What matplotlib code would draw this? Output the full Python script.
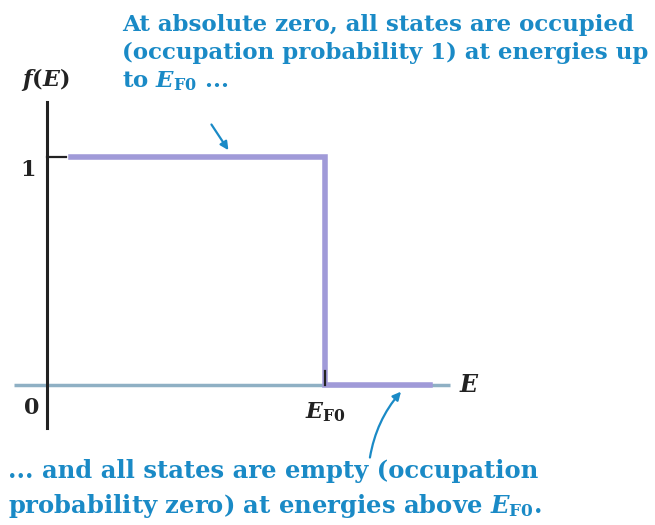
import matplotlib.pyplot as plt

# Fermi-Dirac distribution at T = 0 (energies in units of E_F0)
energy = [0.085, 1.0, 1.0, 1.378]
occupancy = [1, 1, 0, 0]
tick_values = [0, 1]
tick_labels = ['0', '1']

purple = '#a09ad8'
blue = '#1a8ac6'
serif = 'DejaVu Serif'
plt.rcParams['mathtext.fontset'] = 'dejavuserif'

fig = plt.figure(figsize=(6.55, 5.25), dpi=100)
ax = fig.add_axes([0, 0, 1, 1])
ax.set_xlim(-0.169, 2.187)
ax.set_ylim(-0.614, 1.689)
ax.axis('off')

# axes drawn by hand
ax.plot([-0.12, 1.45], [0, 0], color='#8fb0c4', lw=2.5, solid_capstyle='butt', zorder=1)
ax.plot([0, 0], [-0.19, 1.24], color='#222222', lw=2.2, zorder=3)
ax.plot([0, 0.07], [1, 1], color='#222222', lw=1.6, zorder=3)
ax.plot([1.0, 1.0], [0.0, 0.06], color='#222222', lw=1.6, zorder=3)

# occupation probability
ax.plot(energy, occupancy, color=purple, lw=4, solid_joinstyle='miter', zorder=2)

ax.text(-0.068, 1 - 0.057, tick_labels[1], fontsize=16, fontweight='bold', family=serif,
        ha='center', va='center', color='#222222')
ax.text(-0.054, 0 - 0.10, tick_labels[0], fontsize=16, fontweight='bold', family=serif,
        ha='center', va='center', color='#222222')

ax.text(-0.005, 1.34, r'$\mathbfit{f}\mathbf{(}\mathbfit{E}\mathbf{)}$', fontsize=16,
        ha='center', va='center', color='#222222')
ax.text(1.0, -0.12, r'$\mathbfit{E}_{\mathbf{F0}}$', fontsize=16, ha='center', va='center',
        color='#222222')
ax.text(1.52, 0.0, r'$\mathbfit{E}$', fontsize=17, ha='center', va='center', color='#222222')

top_note = ('At absolute zero, all states are occupied\n'
            '(occupation probability 1) at energies up\n'
            r'to $\mathbfit{E}_{\mathbf{F0}}$ ...')
ax.text(0.27, 1.627, top_note, fontsize=16.5, fontweight='bold', family=serif,
        color=blue, ha='left', va='top', linespacing=1.31)

bottom_note = ('... and all states are empty (occupation\n'
               r'probability zero) at energies above $\mathbfit{E}_{\mathbf{F0}}$.')
ax.text(-0.14, -0.325, bottom_note, fontsize=17.5, fontweight='bold', family=serif,
        color=blue, ha='left', va='top', linespacing=1.42)

ax.annotate('', xy=(0.658, 1.02), xytext=(0.586, 1.153),
            arrowprops=dict(arrowstyle='-|>', color=blue, lw=1.6, mutation_scale=12))
ax.annotate('', xy=(1.28, -0.02), xytext=(1.16, -0.33),
            arrowprops=dict(arrowstyle='-|>', color=blue, lw=1.6, mutation_scale=12,
                            connectionstyle='arc3,rad=-0.15'))

fig.savefig('out.png', dpi=100)
